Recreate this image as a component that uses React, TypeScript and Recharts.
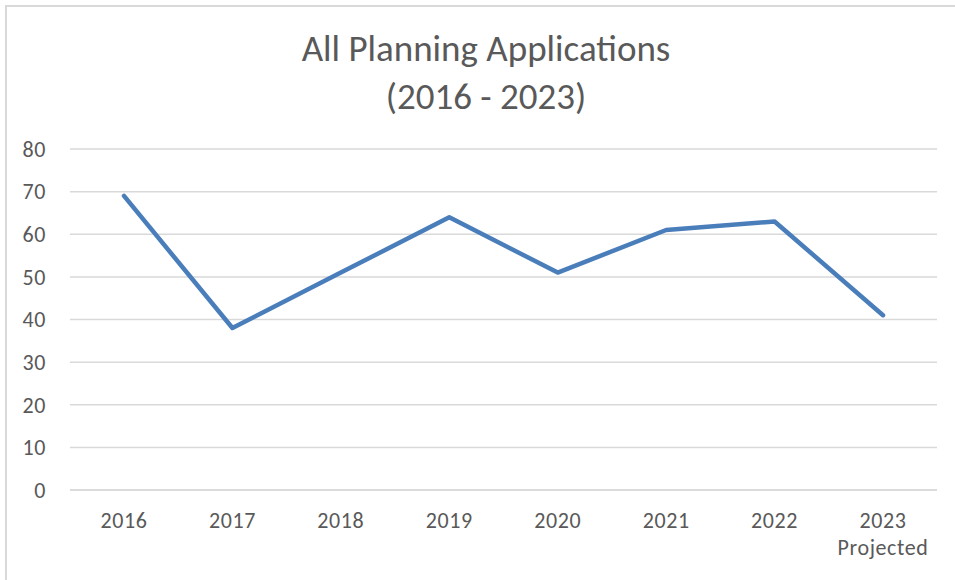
import React from 'react';
import { LineChart, Line, XAxis, YAxis, CartesianGrid } from 'recharts';

const years = ['2016', '2017', '2018', '2019', '2020', '2021', '2022', '2023'];
const applications = [69, 38, 51, 64, 51, 61, 63, 41];
const yTicks = [0, 10, 20, 30, 40, 50, 60, 70, 80];
const subLabels: Record<string, string> = { '2023': 'Projected' };

const data = years.map((year, i) => ({ year, value: applications[i] }));

const FONT = 'Carlito, Calibri, Lato, sans-serif';
const TEXT = '#595959';

const YearTick = (props: any) => {
  const { x, y, payload } = props;
  const sub = subLabels[payload.value];
  return (
    <g transform={`translate(${x},${y})`}>
      <text x={0} y={0} dy={30} textAnchor="middle" fill={TEXT} fontSize={22} letterSpacing={0.6} fontFamily={FONT}>
        {payload.value}
      </text>
      {sub && (
        <text x={0} y={0} dy={57} textAnchor="middle" fill={TEXT} fontSize={22} letterSpacing={0.6} fontFamily={FONT}>
          {sub}
        </text>
      )}
    </g>
  );
};

export default function App() {
  return (
    <div style={{ position: 'absolute', left: 0, top: 0, width: 955, height: 580, background: '#fff', overflow: 'hidden' }}>
      {/* chart frame, only top and left edges show */}
      <div
        style={{
          position: 'absolute',
          left: 5,
          top: 5,
          width: 960,
          height: 590,
          borderTop: '2px solid #d9d9d9',
          borderLeft: '2px solid #d9d9d9',
        }}
      />
      <div
        style={{
          position: 'absolute',
          left: 0,
          top: 25,
          width: 972,
          textAlign: 'center',
          color: TEXT,
          fontFamily: FONT,
          fontSize: 37,
          lineHeight: '48px',
        }}
      >
        All Planning Applications
        <br />
        (2016 - 2023)
      </div>
      <div style={{ position: 'absolute', left: 0, top: 0 }}>
        <LineChart width={955} height={580} data={data} margin={{ top: 149, right: 18, bottom: 0, left: 10 }}>
          <CartesianGrid vertical={false} stroke="#d9d9d9" strokeWidth={1.5} />
          <XAxis
            dataKey="year"
            height={90}
            padding={{ left: 54, right: 54 }}
            axisLine={{ stroke: '#d9d9d9', strokeWidth: 1.5 }}
            tickLine={false}
            tick={<YearTick />}
            interval={0}
          />
          <YAxis
            width={60}
            domain={[0, 80]}
            ticks={yTicks}
            axisLine={false}
            tickLine={false}
            tickSize={0}
            tickMargin={24}
            tick={{ fill: TEXT, fontSize: 22, letterSpacing: 0.6, fontFamily: FONT }}
          />
          <Line
            type="linear"
            dataKey="value"
            stroke="#4a7ebb"
            strokeWidth={4.5}
            strokeLinecap="round"
            strokeLinejoin="round"
            dot={false}
            isAnimationActive={false}
          />
        </LineChart>
      </div>
    </div>
  );
}
